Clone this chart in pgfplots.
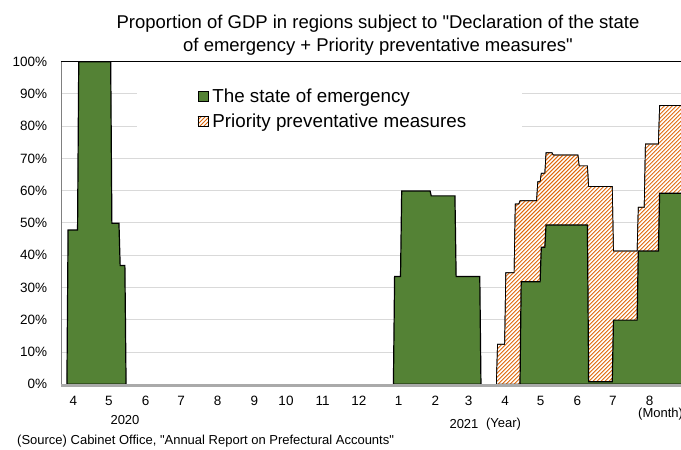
\documentclass[border=0pt]{standalone}
\usepackage{pgfplots}
\pgfplotsset{compat=1.18}
\usetikzlibrary{patterns.meta}
\usepackage{fontspec}
\setmainfont{Liberation Sans}
\definecolor{emgreen}{RGB}{84,130,53}
\definecolor{hatchorange}{RGB}{222,104,12}
\definecolor{gridgray}{RGB}{217,217,217}
\definecolor{bandgray}{RGB}{170,170,170}
\tikzset{hatchfill/.style={fill=white, postaction={pattern={Lines[angle=45,distance=2.83pt,line width=0.95pt]}, pattern color=hatchorange}}}
\begin{document}
\begin{tikzpicture}
\begin{axis}[
  name=ax,
  x=1.183pt, y=3.226pt,
  xmin=0, xmax=545, ymin=0, ymax=100,
  clip mode=individual,
  axis line style={draw=none},
  ytick={0,10,...,100},
  yticklabel={\pgfmathprintnumber{\tick}\%},
  ymajorgrids, grid style={gridgray, line width=1pt},
  major tick length=0pt,
  xtick={10.5,40.5,71.5,101.5,132.5,163.5,190.2,221.1,251.9,285.5,316.5,344.5,375.5,405.5,436.5,466.5,497.5,528.5},
  xticklabels={4,5,6,7,8,9,10,11,12,1,2,3,4,5,6,7,8,9},
  tick label style={font=\fontsize{13.5}{16}\selectfont, inner sep=0pt},
  yticklabel style={xshift=-13.7pt},
  xticklabel style={anchor=base, yshift=-21.4pt},
  /pgf/number format/assume math mode=true,
  legend style={at={(0.2068,0.9225)}, anchor=north west, draw=none, fill=none,
    font=\fontsize{18.8}{22}\selectfont, row sep=9.9pt, column sep=4pt,
    nodes={inner sep=0pt}},
  legend cell align=left,
]
% white box behind legend (hides grid lines)
\fill[white] (axis cs:64,74) rectangle (axis cs:390,96);

% Priority preventative measures + emergency (total), 2021
\addplot[forget plot, draw=black, line width=0.7pt, hatchfill] coordinates {
(368,0)(369,12.4)(375,12.4)(376,34.6)(383,34.6)(384,55.9)(387,55.9)(388,56.9)(402,56.9)(403,62.8)(405,62.8)(406,65.4)(409,65.4)(410,71.8)(415,71.8)(416,71.1)(437,71.1)(438,67.7)(445,67.7)(446,61.3)(466,61.3)(467,41.3)(487,41.3)(488,54.9)(493,54.9)(494,74.5)(505,74.5)(506,86.4)(545,86.4)
} \closedcycle;

% State of emergency
\addplot[forget plot, draw=black, line width=1.2pt, fill=emgreen] coordinates {
(5,0)(6,47.8)(14,47.8)(15,100)(42,100)(43,49.9)(49,49.9)(50,36.8)(54,36.8)(55,0)
} \closedcycle;
\addplot[forget plot, draw=black, line width=1.2pt, fill=emgreen] coordinates {
(281,0)(282,33.4)(287,33.4)(288,59.9)(312,59.9)(313,58.4)(333,58.4)(334,33.4)(354,33.4)(355,0)
} \closedcycle;
\addplot[forget plot, draw=black, line width=1.2pt, fill=emgreen] coordinates {
(388,0)(389,31.8)(405,31.8)(406,42.5)(409,42.5)(410,49.4)(445,49.4)(446,0.8)(466,0.8)(467,19.9)(487,19.9)(488,41.3)(505,41.3)(506,59.2)(545,59.2)
} \closedcycle;

\addlegendimage{legend image code/.code={\draw[fill=emgreen, draw=black, line width=0.8pt] (0pt,-5pt) rectangle (10pt,5pt);}}
\addlegendentry{The state of emergency}
\addlegendimage{legend image code/.code={\draw[hatchfill, draw=black, line width=0.6pt] (0pt,-5pt) rectangle (10pt,5pt);}}
\addlegendentry{Priority preventative measures}

% frame lines
\draw[black, line width=0.9pt] (rel axis cs:0,1) -- (rel axis cs:1,1);
\draw[gray, line width=0.8pt] (rel axis cs:0,0) -- (rel axis cs:0,1);
\draw[bandgray, line width=3.2pt] ([yshift=-1.3pt]rel axis cs:0,0) -- ([yshift=-1.3pt]rel axis cs:1,0);
\end{axis}
% titles and labels
\node[anchor=base, font=\fontsize{18.5}{22}\selectfont] at ([shift={(317pt,356.1pt)}]ax.south west) {Proportion of GDP in regions subject to \textquotedbl Declaration of the state};
\node[anchor=base, font=\fontsize{18.5}{22}\selectfont] at ([shift={(317pt,332.8pt)}]ax.south west) {of emergency + Priority preventative measures\textquotedbl};
\node[font=\fontsize{13}{15}\selectfont] at ([shift={(64pt,-35.7pt)}]ax.south west) {2020};
\node[font=\fontsize{13}{15}\selectfont] at ([shift={(403pt,-39.7pt)}]ax.south west) {2021};
\node[font=\fontsize{13}{15}\selectfont] at ([shift={(442.5pt,-39.7pt)}]ax.south west) {(Year)};
\node[anchor=west, inner sep=0pt, font=\fontsize{13}{15}\selectfont] at ([shift={(577pt,-30pt)}]ax.south west) {(Month)};
\node[anchor=west, inner sep=0pt, font=\fontsize{13}{15}\selectfont] at ([shift={(-44pt,-56.7pt)}]ax.south west) {(Source) Cabinet Office, \textquotedbl Annual Report on Prefectural Accounts\textquotedbl};
\pgfresetboundingbox
\useasboundingbox ([shift={(-61pt,-65.7pt)}]ax.south west) rectangle ([shift={(620pt,384.3pt)}]ax.south west);
\end{tikzpicture}
\end{document}
